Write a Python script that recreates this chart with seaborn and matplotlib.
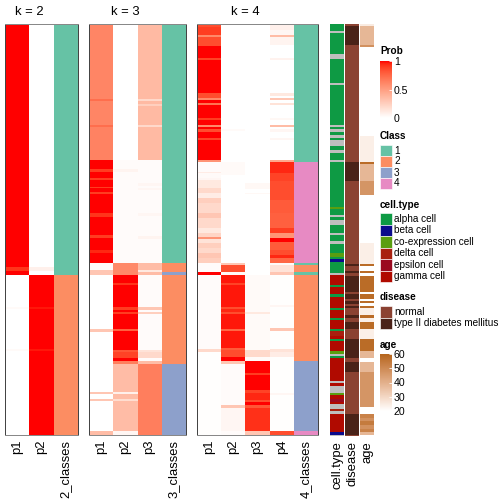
import numpy as np
import matplotlib
import matplotlib.pyplot as plt
import seaborn as sns
from matplotlib.colors import LinearSegmentedColormap, ListedColormap, Normalize, to_rgb
from matplotlib.patches import Rectangle

matplotlib.use('Agg')

# rows are given as runs: (number of rows, value); one row = one pixel of height
# k = 2
k2_p1 = [(240, 1.0), (3, 1.0), (4, 0.92), (4, 1.0),
         (32, 0.0), (2, 0.03), (40, 0.0), (2, 0.03), (84, 0.0)]
k2_p2 = [(240, 0.0), (3, 0.0), (4, 0.08), (4, 0.0),
         (32, 1.0), (2, 0.97), (40, 1.0), (2, 0.97), (84, 1.0)]
k2_class = [(251, 1), (160, 2)]

# k = 3
k3_p1 = [(75, 0.62), (2, 0.72), (24, 0.62), (2, 0.72), (33, 0.63),
         (9, 1.0), (3, 0.9), (6, 1.0), (2, 0.9), (7, 1.0), (1, 0.9), (4, 1.0), (2, 0.9),
         (19, 1.0), (4, 0.92), (18, 1.0), (3, 0.9), (12, 1.0), (3, 0.95), (10, 1.0),
         (7, 0.02), (2, 0.3), (3, 0.3),
         (54, 0.0), (3, 0.3), (60, 0.0), (2, 0.3), (5, 0.0), (2, 0.3), (30, 0.0), (4, 0.35)]
k3_p2 = [(136, 0.0), (9, 0.02), (3, 0.06), (91, 0.02),
         (12, 0.6),
         (8, 1.0), (2, 0.92), (22, 1.0), (3, 0.9), (2, 1.0), (2, 0.9), (15, 1.0), (2, 0.78),
         (19, 1.0), (2, 0.82), (6, 0.88), (3, 1.0), (3, 0.65),
         (28, 0.35), (2, 0.08), (5, 0.35), (2, 0.18), (30, 0.35), (4, 0.05)]
k3_p3 = [(75, 0.36), (2, 0.2), (3, 0.36), (2, 0.25), (19, 0.36), (2, 0.2), (33, 0.36),
         (23, 0.02), (3, 0.05), (2, 0.02), (2, 0.05), (23, 0.02), (3, 0.05), (20, 0.02),
         (3, 0.06), (24, 0.02),
         (7, 0.35), (2, 0.12), (3, 0.35),
         (32, 0.02), (3, 0.3), (2, 0.02), (2, 0.25), (36, 0.02), (2, 0.15), (6, 0.2),
         (3, 0.02), (3, 0.35),
         (71, 0.65)]
k3_class = [(239, 1), (9, 2), (3, 3), (89, 2), (71, 3)]

# k = 4
k4_p1 = [(3, 0.85), (8, 0.9), (2, 0.6), (9, 0.85), (12, 1.0), (2, 0.88), (33, 1.0),
         (5, 0.85), (2, 0.6), (3, 1.0), (2, 0.7), (13, 1.0), (2, 0.9), (5, 1.0), (2, 0.6),
         (2, 1.0), (3, 0.85), (6, 1.0), (2, 0.88), (20, 1.0), (2, 0.55),
         (10, 0.02), (1, 0.1), (5, 0.03), (2, 0.05), (8, 0.12), (5, 0.2), (5, 0.1), (5, 0.25),
         (10, 0.2), (5, 0.3), (10, 0.2), (5, 0.12), (4, 0.22), (2, 0.55), (4, 0.15),
         (5, 0.25), (5, 0.2), (5, 0.3), (5, 0.25),
         (9, 0.02), (3, 1.0), (74, 0.02), (3, 0.2), (83, 0.01)]
k4_p2 = [(105, 0.0), (2, 0.03), (31, 0.0),
         (13, 0.03), (88, 0.0),
         (2, 0.3), (7, 0.85), (3, 0.03),
         (8, 0.97), (2, 0.88), (22, 0.97), (2, 0.85), (3, 0.95), (2, 0.85), (15, 0.97),
         (2, 0.75), (17, 0.97), (2, 0.8), (7, 0.85), (4, 1.0),
         (3, 0.3), (41, 0.02), (3, 0.3), (23, 0.05), (4, 0.02)]
k4_p3 = [(159, 0.0), (6, 0.04), (4, 0.0), (1, 0.04), (81, 0.0),
         (37, 0.03), (2, 0.12), (36, 0.03), (7, 0.2), (4, 0.03),
         (12, 1.0), (2, 0.9), (15, 1.0), (3, 0.88), (7, 0.95), (2, 0.85), (3, 1.0),
         (3, 0.82), (23, 0.93), (4, 0.3)]
k4_p4 = [(6, 0.08), (5, 0.05), (2, 0.35), (8, 0.06), (13, 0.0), (2, 0.07), (33, 0.0),
         (3, 0.12), (2, 0.0), (2, 0.3), (3, 0.0), (2, 0.15), (13, 0.0), (2, 0.04),
         (5, 0.0), (2, 0.35), (2, 0.0), (3, 0.05), (6, 0.0), (2, 0.05), (20, 0.0), (2, 0.45),
         (11, 0.95), (8, 0.88), (19, 0.85), (13, 0.8), (15, 0.78), (5, 0.9), (5, 0.55),
         (4, 1.0), (8, 0.8), (5, 0.85), (3, 0.95), (5, 0.75),
         (2, 0.03), (7, 0.15), (3, 0.3),
         (30, 0.01), (2, 0.05), (21, 0.01), (3, 0.3), (18, 0.01), (3, 0.15), (5, 0.1),
         (36, 0.01), (2, 0.05), (36, 0.01), (4, 0.85)]
k4_class = [(138, 1), (101, 4), (2, 1), (7, 2), (3, 1), (86, 2), (70, 3), (4, 4)]

# annotations: a alpha, b beta, c co-expression, d delta, e epsilon, g gamma, n NA
cell_type = [(7, 'a'), (2, 'n'), (21, 'a'), (5, 'n'), (24, 'a'), (2, 'n'), (40, 'a'),
             (2, 'n'), (2, 'a'), (3, 'n'), (3, 'a'), (3, 'n'), (2, 'a'), (6, 'n'), (4, 'a'),
             (3, 'n'), (7, 'a'), (2, 'n'), (45, 'a'), (2, 'c'), (6, 'a'), (2, 'n'), (3, 'a'),
             (5, 'n'), (7, 'a'), (2, 'n'), (6, 'a'), (3, 'n'), (9, 'a'), (4, 'c'), (2, 'a'),
             (3, 'b'), (11, 'a'), (2, 'n'), (10, 'g'), (2, 'a'), (7, 'g'), (3, 'a'),
             (11, 'g'), (2, 'a'), (8, 'g'), (2, 'a'), (9, 'g'), (2, 'a'), (5, 'd'), (3, 'g'),
             (2, 'a'), (10, 'g'), (3, 'c'), (2, 'n'), (2, 'a'), (23, 'g'), (2, 'n'), (3, 'g'),
             (7, 'n'), (2, 'c'), (4, 'g'), (3, 'e'), (2, 'g'), (5, 'n'), (2, 'd'), (3, 'n'),
             (18, 'g'), (3, 'b'), (1, 'n')]
disease = [(2, 'N'), (19, 'T'), (117, 'N'), (19, 'T'), (82, 'N'), (2, 'T'), (5, 'N'),
           (2, 'T'), (3, 'N'), (16, 'T'), (2, 'N'), (5, 'T'), (2, 'N'), (3, 'T'), (2, 'N'),
           (2, 'T'), (7, 'N'), (3, 'T'), (4, 'N'), (7, 'T'), (10, 'N'), (19, 'T'), (4, 'N'),
           (10, 'T'), (42, 'N'), (21, 'T'), (1, 'N')]
age = [(2, 25), (19, 38), (2, 48), (89, np.nan), (26, 24), (2, 58), (17, 38), (14, 47),
       (47, np.nan), (21, 24), (2, 58), (5, np.nan), (2, 58), (3, np.nan), (16, 58),
       (2, np.nan), (5, 58), (2, np.nan), (2, 58), (3, np.nan), (2, 58), (7, 24), (3, 58),
       (4, 24), (7, 58), (10, 24), (12, 58), (7, 38), (4, np.nan), (10, 38), (35, 47),
       (7, np.nan), (4, 52), (3, 48), (4, 54), (4, 48), (3, 52), (3, 38), (1, np.nan)]

class_labels = ["1", "2", "3", "4"]
class_colors = ["#66C2A5", "#FC8D62", "#8DA0CB", "#E78AC3"]
cell_codes = ['a', 'b', 'c', 'd', 'e', 'g', 'n']
cell_labels = ["alpha cell", "beta cell", "co-expression cell", "delta cell",
               "epsilon cell", "gamma cell"]
cell_colors = ["#0E9A44", "#0B0B8C", "#5A9E10", "#A8200F", "#9A0A20", "#B00A00", "#BEBEBE"]
disease_codes = ['N', 'T']
disease_labels = ["normal", "type II diabetes mellitus"]
disease_colors = ["#8B4232", "#4A2218"]


# colour ramps interpolated in LAB space, like the original
def _to_lab(rgb):
    c = np.array(rgb)
    c = np.where(c > 0.04045, ((c + 0.055) / 1.055) ** 2.4, c / 12.92)
    m = np.array([[0.4124, 0.3576, 0.1805], [0.2126, 0.7152, 0.0722], [0.0193, 0.1192, 0.9505]])
    xyz = m @ c / np.array([0.95047, 1.0, 1.08883])
    f = np.where(xyz > 0.008856, np.cbrt(xyz), 7.787 * xyz + 16 / 116)
    return np.array([116 * f[1] - 16, 500 * (f[0] - f[1]), 200 * (f[1] - f[2])])


def _from_lab(lab):
    fy_ = (lab[0] + 16) / 116
    f = np.array([fy_ + lab[1] / 500, fy_, fy_ - lab[2] / 200])
    xyz = np.where(f ** 3 > 0.008856, f ** 3, (f - 16 / 116) / 7.787) * np.array([0.95047, 1.0, 1.08883])
    m = np.array([[3.2406, -1.5372, -0.4986], [-0.9689, 1.8758, 0.0415], [0.0557, -0.2040, 1.0570]])
    c = m @ xyz
    c = np.where(c > 0.0031308, 1.055 * np.clip(c, 0, None) ** (1 / 2.4) - 0.055, 12.92 * c)
    return np.clip(c, 0, 1)


def lab_cmap(name, c0, c1):
    a, b = _to_lab(to_rgb(c0)), _to_lab(to_rgb(c1))
    cols = [_from_lab(a + (b - a) * t) for t in np.linspace(0, 1, 21)]
    return LinearSegmentedColormap.from_list(name, cols)


prob_cmap = lab_cmap("prob", "#FFFFFF", "#FF0000")
age_cmap = lab_cmap("age", "#FFFFFF", "#B5651B")

W, H = 504, 504
TOP, BOTTOM = 24, 435


def fx(x):
    return x / W


def fy(y):
    return 1 - y / H


def expand(runs):
    return np.repeat([v for n, v in runs], [n for n, v in runs])


plt.rcParams['font.family'] = ['Liberation Sans', 'DejaVu Sans']
fig = plt.figure(figsize=(7, 7), dpi=72)


def draw_panel(left, right, probs, classes, k):
    ax = fig.add_axes([fx(left), fy(BOTTOM), fx(right - left), (BOTTOM - TOP) / H])
    cols = [f"p{i + 1}" for i in range(k)] + [f"{k}_classes"]
    p = np.column_stack([expand(r).astype(float) for r in probs])
    n = p.shape[0]
    data_p = np.column_stack([p, np.full(n, np.nan)])
    data_c = np.column_stack([np.full((n, k), np.nan), expand(classes).astype(float)])
    sns.heatmap(data_p, cmap=prob_cmap, vmin=0, vmax=1, cbar=False, ax=ax)
    sns.heatmap(data_c, cmap=ListedColormap(class_colors), vmin=0.5, vmax=4.5,
                cbar=False, ax=ax)
    ax.set_xticks(np.arange(k + 1) + 0.5)
    ax.set_xticklabels(cols, rotation=90, fontsize=13)
    ax.set_yticks([])
    ax.tick_params(axis='x', length=0, pad=5)
    for side, s in ax.spines.items():
        s.set_visible(True)
        s.set_color('#888888' if side in ('top', 'bottom') else '#444444')
        s.set_linewidth(1)
    ax.text(k / 2, -9, f"k = {k}", ha='center', va='baseline', fontsize=13)


draw_panel(5, 78, [k2_p1, k2_p2], k2_class, 2)
draw_panel(89, 186, [k3_p1, k3_p2, k3_p3], k3_class, 3)
draw_panel(197, 318, [k4_p1, k4_p2, k4_p3, k4_p4], k4_class, 4)


def draw_annotation(left, values, cmap, vmin, vmax, label):
    ax = fig.add_axes([fx(left), fy(BOTTOM + 1), fx(14), (BOTTOM + 1 - TOP) / H])
    sns.heatmap(values.reshape(-1, 1), cmap=cmap, vmin=vmin, vmax=vmax, cbar=False,
                ax=ax, xticklabels=[label], yticklabels=False)
    ax.tick_params(axis='x', length=0, pad=5, labelsize=13, labelrotation=90)


cell_vals = np.array([cell_codes.index(c) for c in expand(cell_type)], dtype=float)
dis_vals = np.array([disease_codes.index(c) for c in expand(disease)], dtype=float)
age_vals = expand(age).astype(float)

draw_annotation(330, cell_vals, ListedColormap(cell_colors), -0.5, 6.5, "cell.type")
draw_annotation(345, dis_vals, ListedColormap(disease_colors), -0.5, 1.5, "disease")
draw_annotation(360, age_vals, age_cmap, 20, 60, "age")

# legends
LX = 380


def legend_title(y, text):
    fig.text(fx(LX), fy(y), text, fontsize=10, fontweight='bold', va='baseline')


def legend_squares(y0, labels, colors, step=11.5):
    for i, (lab, col) in enumerate(zip(labels, colors)):
        y = y0 + i * step
        fig.add_artist(Rectangle((fx(LX), fy(y + step)), 12 / W, step / H,
                                 transform=fig.transFigure, facecolor=col,
                                 edgecolor='white', linewidth=0.6))
        fig.text(fx(LX + 14), fy(y + step / 2), lab, fontsize=10, va='center')


def legend_bar(y_top, y_bot, cmap, vmin, vmax, ticks):
    cax = fig.add_axes([fx(LX), fy(y_bot), 12 / W, (y_bot - y_top) / H])
    cb = fig.colorbar(plt.cm.ScalarMappable(norm=Normalize(vmin, vmax), cmap=cmap), cax=cax)
    cb.outline.set_visible(False)
    cb.set_ticks(ticks)
    cb.set_ticklabels([f"{t:g}" for t in ticks])
    cax.tick_params(length=3, direction='in', color='white', labelsize=10.5, pad=2)


legend_title(54, "Prob")
legend_bar(61, 118, prob_cmap, 0, 1, [0, 0.5, 1])

legend_title(139, "Class")
legend_squares(145, class_labels, class_colors, step=11)

legend_title(208, "cell.type")
legend_squares(213, cell_labels, cell_colors[:6])

legend_title(300, "disease")
legend_squares(306, disease_labels, disease_colors)

legend_title(348, "age")
legend_bar(354, 411, age_cmap, 20, 60, [20, 30, 40, 50, 60])

plt.savefig("out.png", dpi=72)
plt.close()
